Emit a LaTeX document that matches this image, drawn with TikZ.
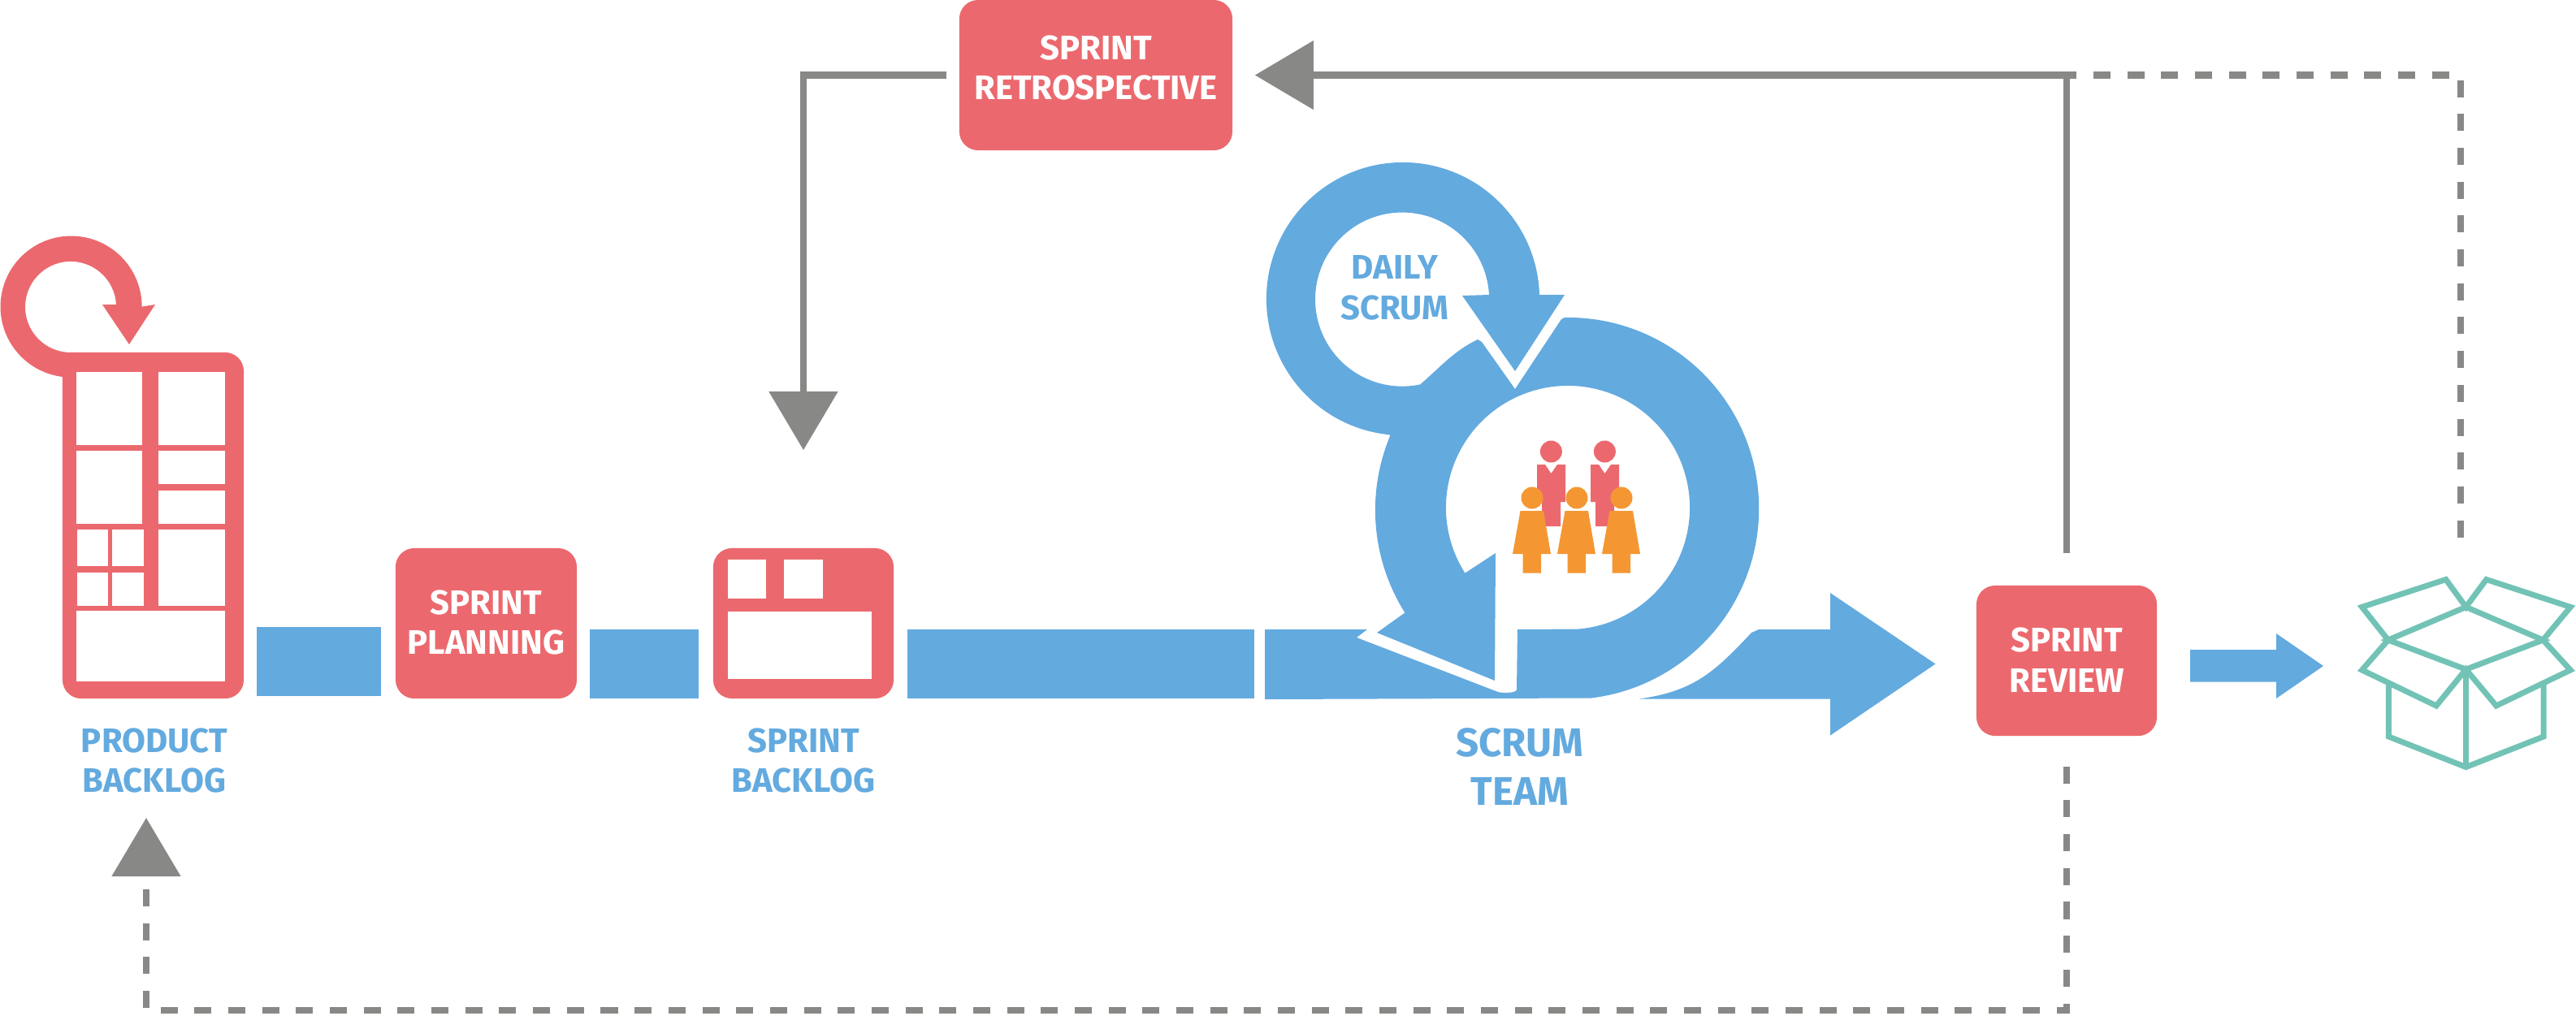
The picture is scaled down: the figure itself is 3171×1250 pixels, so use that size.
\documentclass[tikz,border=0pt]{standalone}
\usepackage{fontspec}
\usepackage{tikz}
\usetikzlibrary{arrows.meta}
\setmainfont{Fira Sans}

\definecolor{scrumRed}{HTML}{EB696E}
\definecolor{scrumBlue}{HTML}{63AADF}
\definecolor{scrumOrange}{HTML}{F49733}
\definecolor{scrumTeal}{HTML}{72C3B5}
\definecolor{scrumGrey}{HTML}{888886}

\tikzset{
    sprintbox/.style={fill=scrumRed, rounded corners=.23cm, inner sep=0pt},
    boxtext/.style={align=center, inner sep=0pt, text=white,
        font=\fontsize{11.9}{14.2}\selectfont\bfseries},
    bluetext/.style={boxtext, text=scrumBlue},
    window/.style={fill=white},
    flowbar/.style={fill=scrumBlue},
    feedback/.style={draw=scrumGrey, line width=.085cm,
        -{Triangle[length=.72cm, width=.83cm, fill=scrumGrey]}},
    feedbackdash/.style={feedback, dash pattern=on .21cm off .2065cm},
    boxline/.style={draw=scrumTeal, line width=.07cm, line join=miter}
}

\begin{document}
\begin{tikzpicture}[x=.01cm, y=-.01cm]
    \useasboundingbox (0,0) rectangle (3171,1250);

    % boxes
    \node[sprintbox, minimum width=3.36cm, minimum height=1.85cm] (retro) at (1349,92.5) {};
    \node[boxtext] (retroText) at (1349,83.5) {SPRINT\\RETROSPECTIVE};
    \node[sprintbox, minimum width=2.23cm, minimum height=1.85cm] (planning) at (598.5,767.5) {};
    \node[boxtext] (planningText) at (598.5,766.5) {SPRINT\\PLANNING};
    \node[sprintbox, minimum width=2.22cm, minimum height=1.85cm] (review) at (2544,813.5) {};
    \node[boxtext] (reviewText) at (2544,812.5) {SPRINT\\REVIEW};

    % product backlog
    \node[sprintbox, minimum width=2.23cm, minimum height=4.26cm] (productBacklog) at (188.5,647) {};
    \fill[scrumRed] (143,375) arc [start angle=3, end angle=270, radius=.56cm]
        -- (110,434) -- (110,464) -- (77,464) arc [start angle=263, end angle=0, radius=.87cm]
        -- (191,375) -- (159,424) -- (126,375) -- cycle;
    \foreach \xa/\ya/\xb/\yb in {94/458/175/548, 195/458/277/548, 94/555/175/645, 195/555/277/596,
            195/604/277/645, 195/652/277/746, 95/652/133/697, 138/652/177/697,
            95/705/133/746, 138/705/177/746, 94/752/277/839}
        \fill[window] (\xa,\ya) rectangle (\xb,\yb);
    \node[bluetext] (productLabel) at (190,936.5) {PRODUCT\\BACKLOG};

    % sprint backlog
    \node[sprintbox, minimum width=2.22cm, minimum height=1.85cm] (sprintBacklog) at (989,767.5) {};
    \fill[window] (896,689) rectangle (943,737);
    \fill[window] (965,689) rectangle (1013,737);
    \fill[window] (896,753) rectangle (1073,836);
    \node[bluetext] (sprintLabel) at (989,936.5) {SPRINT\\BACKLOG};

    % flow bars
    \fill[flowbar] (316,772) rectangle (469,857);
    \fill[flowbar] (726,775) rectangle (860,860);
    \fill[flowbar] (1117,775) rectangle (1544,860);

    % daily scrum loop
    \coordinate (dailyIn) at (1726,369);
    \coordinate (dailyOut) at (1727,368);
    \coordinate (teamIn) at (1930,625);
    \coordinate (teamOut) at (1930,628);
    \fill[scrumBlue] (1833,363) arc [start angle=3, end angle=282, radius=1.07cm]
        .. controls (1775,450) and (1790,432) .. (1819,418)
        -- (1824,421) -- (1865,479)
        -- ([shift={(115.7:1.5cm)}]teamIn) arc [start angle=115.7, end angle=212.5, radius=1.5cm]
        -- (1841,681) -- (1840,838) -- (1695,779) -- (1730,754)
        -- ([shift={(212.2:2.37cm)}]teamOut) arc [start angle=212.2, end angle=157.3, radius=2.37cm]
        -- ([shift={(264.2:1.68cm)}]dailyOut) arc [start angle=264.2, end angle=1.7, radius=1.68cm]
        -- (1926,363) -- (1865,457) -- (1800,364) -- cycle;
    \node[bluetext] (dailyLabel) at (1717,354) {DAILY\\SCRUM};

    % sprint run and output arrow
    \fill[scrumBlue] (1926,391) arc [start angle=91, end angle=-83, radius=2.35cm]
        -- (1557,861) -- (1557,775) -- (1683,775) -- (1670,785) -- (1844,852)
        .. controls (1852,854) and (1867,853) .. (1867,849)
        -- (1868,775)
        -- ([shift={(-85:1.5cm)}]teamIn) arc [start angle=-85, end angle=115.7, radius=1.5cm]
        -- (1865,479) -- (1922,393) -- cycle;
    \fill[scrumBlue] (2018,860.5) .. controls (2085,851) and (2110,828) .. (2156,779)
        -- (2165,775) -- (2253,775) -- (2253,730) -- (2382.5,817.5)
        -- (2253,905.5) -- (2253,860.5) -- cycle;
    \node[bluetext, font=\fontsize{14}{17}\selectfont\bfseries] (teamLabel) at (1871,944) {SCRUM\\TEAM};

    % team
    \foreach \px in {0,66} {
        \fill[scrumRed] (1909.4+\px,556) circle [radius=.135cm];
        \fill[scrumRed] (1892+\px,572) -- (1902+\px,572) -- (1909.4+\px,583) -- (1917+\px,572)
            -- (1927+\px,572) -- (1927+\px,618) -- (1921+\px,618) -- (1921+\px,648)
            -- (1898+\px,648) -- (1898+\px,618) -- (1892+\px,618) -- cycle;
    }
    \foreach \px in {0,55,110} {
        \fill[scrumOrange] (1886+\px,613) circle [radius=.135cm];
        \fill[scrumOrange] (1871.5+\px,629) -- (1900+\px,629) -- (1909+\px,682) -- (1897+\px,682)
            -- (1897+\px,705.5) -- (1874.5+\px,705.5) -- (1874.5+\px,682) -- (1862+\px,682) -- cycle;
    }

    % output
    \fill[flowbar] (2696,800) -- (2802,800) -- (2802,780) -- (2860,820) -- (2802,860)
        -- (2802,839.5) -- (2696,839.5) -- cycle;
    \coordinate (boxTop) at (3029,662);
    \draw[boxline] (2939.7,788) -- (3035.5,747.4) -- (3130.4,788) -- (3035.5,824.2) -- cycle;
    \draw[boxline] (2939.7,788) -- (2907.5,747.4) -- (3010.8,713.5) -- (3035.5,747.4)
        -- (3060.6,713.5) -- (3164.2,747.4) -- (3130.4,788);
    \draw[boxline] (2939.7,788) -- (2907.5,825) -- (2999,869) -- (3035.5,824.2)
        -- (3072.8,869) -- (3164.2,825) -- (3130.4,788);
    \draw[boxline] (2940.4,841) -- (2940.4,907) -- (3035.5,944.5) -- (3131,907) -- (3131,841);
    \draw[boxline] (3035.5,824.2) -- (3035.5,944.5);

    % feedback lines
    \coordinate (productTip) at (180,1007);
    \coordinate (bottomCorner) at (2544,1244);
    \draw[feedback, shorten <=.39cm, shorten >=.27cm] (review.north) |- (retro.east);
    \draw[feedback, shorten <=.15cm, shorten >=1.2cm] (retro.west) -| (sprintBacklog.north);
    \draw[feedbackdash, -, dash phase=.0885cm] (2544,92.5) -| (boxTop);
    \draw[feedbackdash, shorten <=.37cm] (review.south) -- (bottomCorner) -| (productTip);
\end{tikzpicture}
\end{document}
